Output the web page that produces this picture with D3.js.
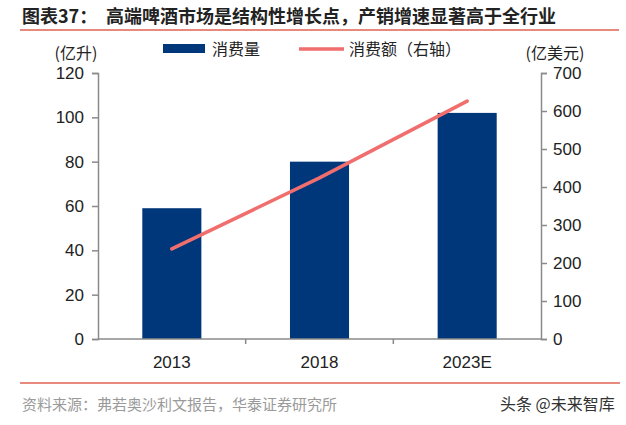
<!DOCTYPE html>
<html>
<head>
<meta charset="utf-8">
<script src="https://cdn.jsdelivr.net/npm/d3@7"></script>
<style>
  body { margin: 0; background: #fff; }
  svg { display: block; }
</style>
</head>
<body>
<div class="chart"></div>
<script>
// data
const years = ["2013", "2018", "2023E"];
const volume = [59, 80, 102];      // 消费量, 亿升 (left axis)
const sales = [237, 424, 626];     // 消费额, 亿美元 (right axis)
const leftTicks = [0, 20, 40, 60, 80, 100, 120];
const rightTicks = [0, 100, 200, 300, 400, 500, 600, 700];

const W = 626, H = 425;
const margin = {top: 73, right: 85, bottom: 86, left: 98},
    width = W - margin.left - margin.right,
    height = H - margin.top - margin.bottom;

const barColor = "#00367a", lineColor = "#f06e6e", ruleColor = "#e8897e", axisColor = "#8a8a8a";
const numFont = "'Liberation Sans', Arial, sans-serif";
const cjkFont = "'Noto Sans CJK SC', sans-serif";

const svg = d3.select(".chart")
  .append("svg")
    .attr("width", W)
    .attr("height", H);

// title + rules
svg.append("text")
  .attr("x", 22).attr("y", 23)
  .attr("font-family", cjkFont).attr("font-weight", "bold")
  .attr("font-size", 18).attr("fill", "#222")
  .text("图表37：");
svg.append("text")
  .attr("x", 106).attr("y", 23)
  .attr("font-family", cjkFont).attr("font-weight", "bold")
  .attr("font-size", 18).attr("fill", "#222")
  .attr("textLength", 450).attr("lengthAdjust", "spacing")
  .text("高端啤酒市场是结构性增长点，产销增速显著高于全行业");
svg.append("line")
  .attr("x1", 20).attr("x2", 619).attr("y1", 30).attr("y2", 30)
  .attr("stroke", ruleColor).attr("stroke-width", 2);
svg.append("line")
  .attr("x1", 20).attr("x2", 620).attr("y1", 383).attr("y2", 383)
  .attr("stroke", ruleColor).attr("stroke-width", 2);

svg.append("text")
  .attr("x", 22).attr("y", 410)
  .attr("font-family", cjkFont).attr("font-size", 15).attr("fill", "#9a9a9a")
  .text("资料来源：弗若奥沙利文报告，华泰证券研究所");
svg.append("text")
  .attr("x", 500).attr("y", 410)
  .attr("font-family", cjkFont).attr("font-size", 16).attr("fill", "#333")
  .text("头条 @未来智库");

const g = svg.append("g")
  .attr("transform", `translate(${margin.left},${margin.top})`);

// scales
const x = d3.scaleBand().domain(years).range([0, width]).padding(0);
const yL = d3.scaleLinear().domain([0, 120]).range([height, 0]);
const yR = d3.scaleLinear().domain([0, 700]).range([height, 0]);

// bars
const barW = x.bandwidth() * 0.4;
g.append("g")
  .selectAll("rect")
  .data(volume)
  .join("rect")
    .attr("x", (d, i) => x(years[i]) + (x.bandwidth() - barW) / 2)
    .attr("y", d => yL(d))
    .attr("width", barW)
    .attr("height", d => yL(0) - yL(d))
    .attr("fill", barColor);

// line on right axis
const line = d3.line()
  .x((d, i) => x(years[i]) + x.bandwidth() / 2)
  .y(d => yR(d));
g.append("path")
  .datum(sales)
  .attr("d", line)
  .attr("fill", "none")
  .attr("stroke", lineColor)
  .attr("stroke-width", 3.5)
  .attr("stroke-linecap", "round");

// axes
function styleAxis(sel) {
  sel.selectAll("path, line").attr("stroke", axisColor).attr("stroke-width", 1.5);
  sel.selectAll("text").attr("font-family", numFont).attr("font-size", 17).attr("fill", "#222");
}
g.append("g")
  .call(d3.axisLeft(yL).tickValues(leftTicks).tickSize(6).tickSizeOuter(6).tickPadding(8))
  .call(styleAxis);
g.append("g")
  .attr("transform", `translate(${width},0)`)
  .call(d3.axisRight(yR).tickValues(rightTicks).tickSize(6).tickSizeOuter(6).tickPadding(6))
  .call(styleAxis);

// x axis: line with boundary ticks
const xAxis = g.append("g").attr("transform", `translate(0,${height})`);
xAxis.append("line")
  .attr("x1", 0).attr("x2", width)
  .attr("stroke", axisColor).attr("stroke-width", 1.5);
xAxis.selectAll("line.tk")
  .data(years.slice(1))
  .join("line")
    .attr("class", "tk")
    .attr("x1", d => x(d)).attr("x2", d => x(d))
    .attr("y1", 0).attr("y2", 5)
    .attr("stroke", axisColor).attr("stroke-width", 1.5);
xAxis.selectAll("text")
  .data(years)
  .join("text")
    .attr("x", d => x(d) + x.bandwidth() / 2)
    .attr("y", 29)
    .attr("text-anchor", "middle")
    .attr("font-family", numFont).attr("font-size", 17).attr("fill", "#222")
    .text(d => d);

// axis unit labels
svg.append("text")
  .attr("x", 76).attr("y", 59).attr("text-anchor", "middle")
  .attr("font-family", cjkFont).attr("font-size", 16).attr("fill", "#222")
  .text("(亿升)");
svg.append("text")
  .attr("x", 555).attr("y", 59).attr("text-anchor", "middle")
  .attr("font-family", cjkFont).attr("font-size", 16).attr("fill", "#222")
  .text("(亿美元)");

// legend
const legend = svg.append("g");
legend.append("rect")
  .attr("x", 163).attr("y", 44).attr("width", 42).attr("height", 9)
  .attr("fill", barColor);
legend.append("text")
  .attr("x", 212).attr("y", 55)
  .attr("font-family", cjkFont).attr("font-size", 16).attr("fill", "#222")
  .text("消费量");
legend.append("line")
  .attr("x1", 299).attr("x2", 344).attr("y1", 49).attr("y2", 49)
  .attr("stroke", lineColor).attr("stroke-width", 3.5);
legend.append("text")
  .attr("x", 349).attr("y", 55)
  .attr("font-family", cjkFont).attr("font-size", 16).attr("fill", "#222")
  .text("消费额（右轴）");
</script>
</body>
</html>
